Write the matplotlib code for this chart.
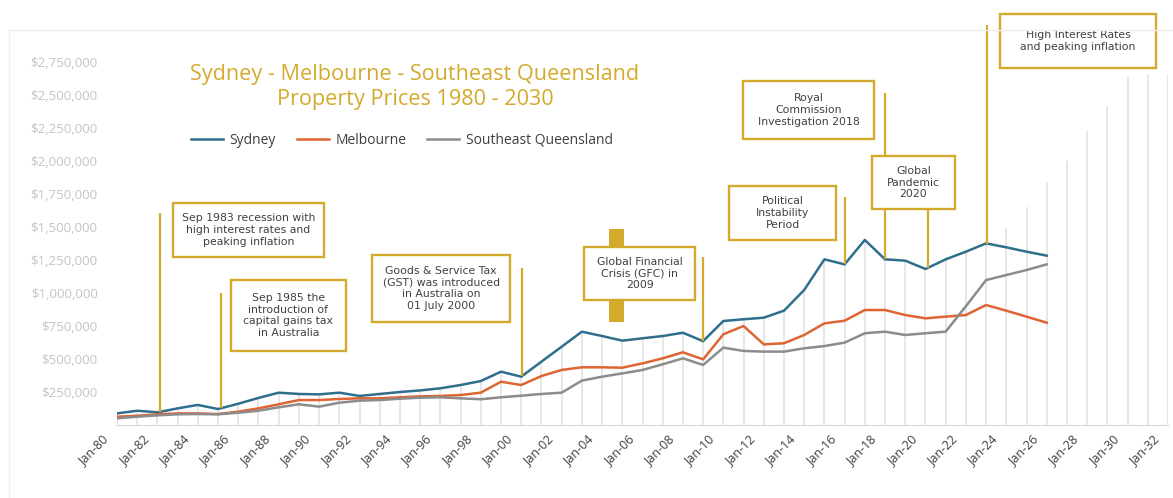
import numpy as np
import matplotlib.pyplot as plt
from matplotlib.patches import Rectangle
from matplotlib.lines import Line2D
from matplotlib.ticker import FuncFormatter
import matplotlib.transforms as mtransforms

plt.rcParams["font.family"] = ["Open Sans", "DejaVu Sans"]

# yearly prices, thousands of dollars
years = np.arange(1980, 2027)
sydney = [88, 108, 96, 126, 152, 121, 161, 205, 245, 235,
          232, 245, 220, 235, 250, 262, 278, 303, 333, 404,
          366, 480, 593, 707, 674, 639, 657, 674, 699, 635,
          788, 801, 813, 866, 1023, 1255, 1217, 1402, 1255, 1245,
          1182, 1255, 1313, 1376, 1346, 1313, 1283]
melbourne = [63, 70, 81, 88, 88, 83, 101, 126, 157, 189,
             189, 197, 202, 202, 210, 217, 220, 227, 245, 328,
             303, 371, 417, 437, 437, 434, 467, 505, 551, 497,
             687, 750, 611, 619, 682, 770, 790, 871, 871, 833,
             808, 821, 833, 909, 866, 821, 775]
seq_qld = [50, 63, 73, 81, 83, 81, 93, 108, 134, 157,
           139, 169, 184, 189, 199, 207, 210, 202, 195, 210,
           222, 235, 245, 336, 366, 391, 417, 460, 505, 455,
           586, 561, 556, 556, 581, 598, 624, 695, 707, 682,
           695, 707, 900, 1098, 1136, 1174, 1217]
# hidden projection series, only visible through its drop lines
proj_years = np.arange(2024, 2033)
projection = [1490, 1650, 1840, 2000, 2230, 2420, 2640, 2660, 2660]

series_names = ["Sydney", "Melbourne", "Southeast Queensland"]
tick_years = list(range(1980, 2033, 2))
tick_labels = [f"Jan-{y % 100:02d}" for y in tick_years]
y_ticks = [250000 * k for k in range(1, 12)]

notes = [
    "Sep 1983 recession with\nhigh interest rates and\npeaking inflation",
    "Sep 1985 the\nintroduction of\ncapital gains tax\nin Australia",
    "Goods & Service Tax\n(GST) was introduced\nin Australia on\n01 July 2000",
    "Global Financial\nCrisis (GFC) in\n2009",
    "Political\nInstability\nPeriod",
    "Royal\nCommission\nInvestigation 2018",
    "Global\nPandemic\n2020",
    "High Interest Rates\nand peaking inflation",
]
# layout: box (x0, x1, y0, y1), marker line x and top
note_boxes = [
    (1982.76, 1990.24, 1.273e6, 1.682e6),
    (1985.63, 1991.33, 0.563e6, 1.098e6),
    (1992.62, 1999.45, 0.783e6, 1.288e6),
    (2003.11, 2008.60, 0.947e6, 1.351e6),
    (2010.28, 2015.58, 1.402e6, 1.811e6),
    (2010.97, 2017.46, 2.167e6, 2.606e6),
    (2017.34, 2021.46, 1.636e6, 2.038e6),
    (2023.69, 2031.41, 2.705e6, 3.114e6),
]
note_lines = [(1982.13, 1.606e6), (1985.15, 1.0e6), (2000.02, 1.189e6),
              (2009.0, 1.275e6), (2016.0, 1.73e6), (2018.02, 2.517e6),
              (2020.14, 1.636e6), (2023.06, 3.03e6)]

GOLD = "#d4aa2c"
TEXT = "#404040"
colors = ["#2f6e8c", "#de6533", "#8c8c8c"]

fig = plt.figure(figsize=(11.73, 4.98), dpi=100)
ax = fig.add_axes([117 / 1173, 73 / 498, 1051 / 1173, 396 / 498])

# faint chart frame
fig.add_artist(Line2D([9 / 1173, 1], [1 - 30 / 498, 1 - 30 / 498], color="#eeeeee", lw=1))
fig.add_artist(Line2D([9 / 1173, 9 / 1173], [0, 1 - 30 / 498], color="#eeeeee", lw=1))

# drop lines up to the highest series at each year
all_years = np.arange(1980, 2033)
tops = []
for yr in all_years:
    vals = []
    for arr in (sydney, melbourne, seq_qld):
        if yr <= years[-1]:
            vals.append(arr[yr - years[0]])
    if yr >= proj_years[0]:
        vals.append(projection[yr - proj_years[0]])
    tops.append(max(vals) * 1000)
ax.vlines(all_years, 0, tops, color="#e0e0e0", lw=1.1, zorder=1)

for name, vals, c in zip(series_names, (sydney, melbourne, seq_qld), colors):
    ax.plot(years, np.array(vals) * 1000, color=c, lw=1.8, label=name, zorder=3)

syd_abs = np.array(sydney) * 1000
for text, (x0, x1, y0, y1), (lx, ltop) in zip(notes, note_boxes, note_lines):
    ax.plot([lx, lx], [np.interp(lx, years, syd_abs), ltop], color=GOLD, lw=1.6,
            zorder=4, clip_on=False, solid_capstyle="butt")
    ax.add_patch(Rectangle((x0, y0), x1 - x0, y1 - y0, facecolor="white",
                           edgecolor=GOLD, lw=1.7, zorder=6, clip_on=False))
    ax.text((x0 + x1) / 2, (y0 + y1) / 2, text, ha="center", va="center",
            fontsize=7.8, color=TEXT, linespacing=1.2, zorder=7, clip_on=False,
            family=["DejaVu Sans"])

# thick gold bar behind the GFC box
ax.add_patch(Rectangle((2004.36, 0.783e6), 0.73, 0.702e6, facecolor=GOLD,
                       edgecolor="none", zorder=5))

ax.set_xlim(1980, 2032)
ax.set_ylim(0, 3.0e6)
ax.set_yticks(y_ticks)
ax.yaxis.set_major_formatter(FuncFormatter(lambda v, p: f"${v:,.0f}"))
ax.tick_params(axis="y", length=0, pad=14, labelsize=9.5, labelcolor="#c4c4c4")
ax.set_xticks(tick_years)
ax.set_xticklabels(tick_labels, rotation=45, ha="right", rotation_mode="anchor")
ax.tick_params(axis="x", length=0, pad=6, labelsize=9, labelcolor=TEXT)
offset = mtransforms.ScaledTranslation(-11 / 72, 0, fig.dpi_scale_trans)
for lbl in ax.get_xticklabels():
    lbl.set_transform(lbl.get_transform() + offset)

for s in ("top", "right", "left"):
    ax.spines[s].set_visible(False)
ax.spines["bottom"].set_color("#d9d9d9")
ax.patch.set_alpha(0)

fig.text(415 / 1173, 1 - 87 / 498,
         "Sydney - Melbourne - Southeast Queensland\nProperty Prices 1980 - 2030",
         ha="center", va="center", fontsize=15.6, color=GOLD, linespacing=1.3)

ax.legend(loc="center", bbox_to_anchor=(402 / 1173, 1 - 140 / 498),
          bbox_transform=fig.transFigure, ncol=3, frameon=False, fontsize=10,
          handlelength=2.3, columnspacing=1.5, handletextpad=0.5,
          labelcolor=TEXT)

fig.savefig("out.png", dpi=100)
